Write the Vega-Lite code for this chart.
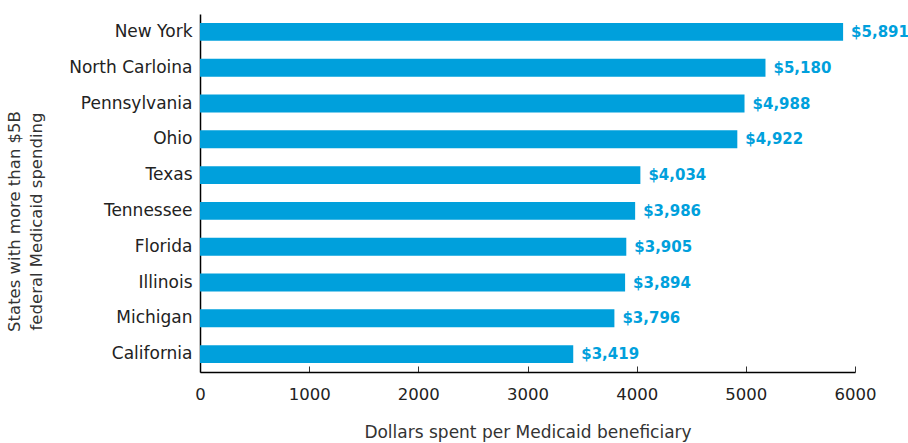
{
  "$schema": "https://vega.github.io/schema/vega-lite/v6.json",
  "autosize": "none",
  "width": 655,
  "height": 358,
  "padding": {"left": 200, "top": 14, "right": 53, "bottom": 71},
  "background": "white",
  "config": {
    "view": {"stroke": null},
    "font": "DejaVu Sans",
    "axis": {"grid": false}
  },
  "data": {
    "values": [
      {"state": "New York", "value": 5891, "label": "$5,891"},
      {"state": "North Carloina", "value": 5180, "label": "$5,180"},
      {"state": "Pennsylvania", "value": 4988, "label": "$4,988"},
      {"state": "Ohio", "value": 4922, "label": "$4,922"},
      {"state": "Texas", "value": 4034, "label": "$4,034"},
      {"state": "Tennessee", "value": 3986, "label": "$3,986"},
      {"state": "Florida", "value": 3905, "label": "$3,905"},
      {"state": "Illinois", "value": 3894, "label": "$3,894"},
      {"state": "Michigan", "value": 3796, "label": "$3,796"},
      {"state": "California", "value": 3419, "label": "$3,419"}
    ]
  },
  "encoding": {
    "y": {
      "field": "state",
      "type": "nominal",
      "sort": null,
      "scale": {"paddingInner": 0.5, "paddingOuter": 0.25},
      "axis": {
        "title": ["States with more than $5B", "federal Medicaid spending"],
        "titleFont": "DejaVu Sans",
        "titleFontSize": 16.5,
        "titleFontWeight": "normal",
        "titleColor": "#333333",
        "titleAngle": -90,
        "titleX": -186,
        "titleY": 207,
        "titleAlign": "center",
        "titleBaseline": "middle",
        "titleLineHeight": 22,
        "labelFont": "DejaVu Sans",
        "labelFontSize": 17,
        "labelFontWeight": "normal",
        "labelColor": "#222222",
        "labelPadding": 8,
        "ticks": false,
        "domainColor": "#000000",
        "domainWidth": 1.5
      }
    },
    "x": {
      "field": "value",
      "type": "quantitative",
      "scale": {"domain": [0, 6000], "nice": false},
      "axis": {
        "title": "Dollars spent per Medicaid beneficiary",
        "titleFont": "DejaVu Sans",
        "titleFontSize": 17,
        "titleFontWeight": "normal",
        "titleColor": "#333333",
        "titlePadding": 22,
        "values": [0, 1000, 2000, 3000, 4000, 5000, 6000],
        "format": "d",
        "labelFlush": false,
        "labelFont": "DejaVu Sans",
        "labelFontSize": 16.5,
        "labelFontWeight": "normal",
        "labelColor": "#222222",
        "labelPadding": 20,
        "tickSize": -6,
        "tickColor": "#333333",
        "domainColor": "#000000",
        "domainWidth": 1.5
      }
    }
  },
  "layer": [
    {"mark": {"type": "bar", "color": "#00A0DC"}},
    {
      "mark": {"type": "text", "align": "left", "baseline": "middle", "dx": 8, "fontSize": 15, "fontWeight": "bold", "color": "#00A0DC", "font": "DejaVu Sans"},
      "encoding": {"text": {"field": "label"}}
    }
  ]
}
